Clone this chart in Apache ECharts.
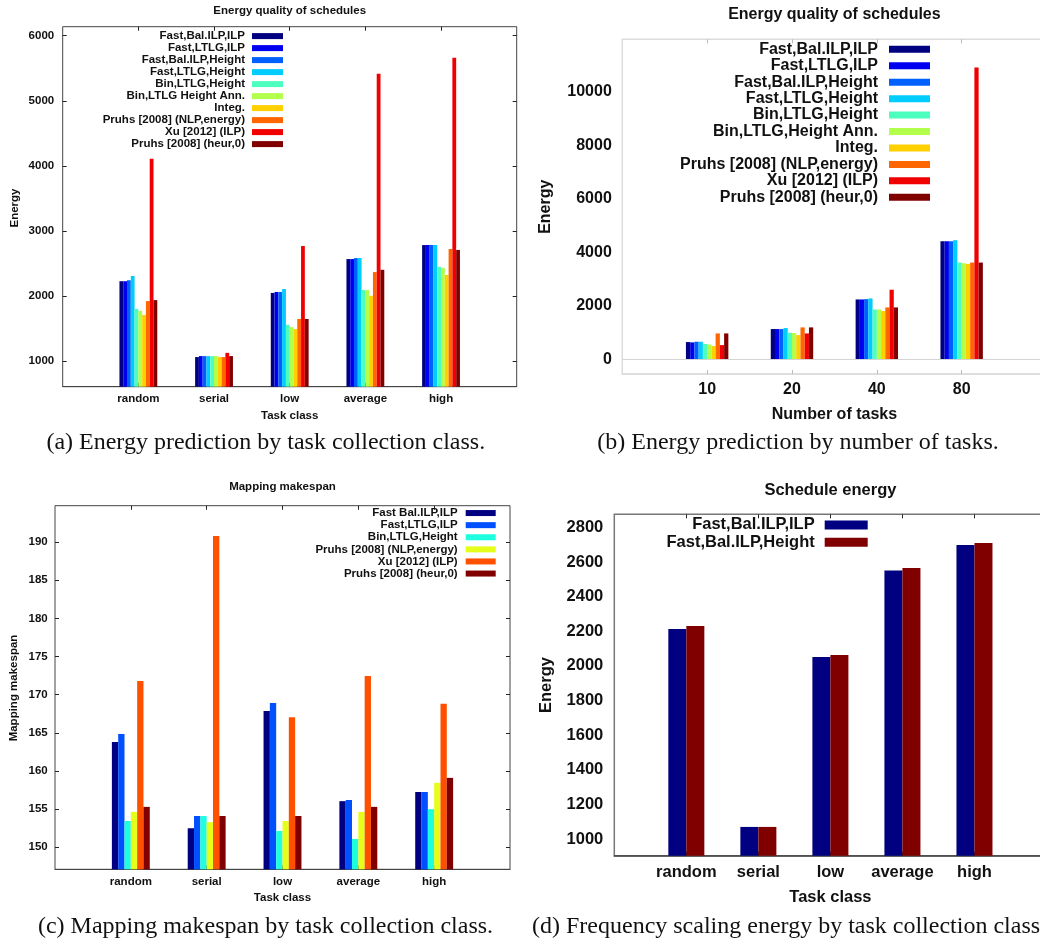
<!DOCTYPE html>
<html><head><meta charset="utf-8">
<script src="https://cdn.jsdelivr.net/npm/echarts@6/dist/echarts.min.js"></script>
<style>html,body{margin:0;padding:0;background:#fff;overflow:hidden}#c{width:1040px;height:940px}</style>
</head><body><div id="c"></div>
<script>
// ---------------- DATA ----------------
const taskClasses = ['random', 'serial', 'low', 'average', 'high'];
const taskCounts = ['10', '20', '40', '80'];

// (a) Energy prediction by task collection class
const namesA = ['Fast,Bal.ILP,ILP', 'Fast,LTLG,ILP', 'Fast,Bal.ILP,Height', 'Fast,LTLG,Height', 'Bin,LTLG,Height',
  'Bin,LTLG Height Ann.', 'Integ.', 'Pruhs [2008] (NLP,energy)', 'Xu [2012] (ILP)', 'Pruhs [2008] (heur,0)'];
const aFastBalIlpIlp = [2230, 1065, 2050, 2570, 2785];
const aFastLtlgIlp = [2230, 1080, 2065, 2570, 2785];
const aFastBalIlpHeight = [2245, 1080, 2065, 2585, 2785];
const aFastLtlgHeight = [2310, 1080, 2110, 2585, 2785];
const aBinLtlgHeight = [1805, 1080, 1560, 2095, 2450];
const aBinLtlgHeightAnn = [1775, 1080, 1525, 2095, 2435];
const aInteg = [1710, 1065, 1495, 2005, 2325];
const aPruhsNlp = [1925, 1065, 1650, 2370, 2725];
const aXuIlp = [4110, 1130, 2770, 5415, 5660];
const aPruhsHeur = [1940, 1080, 1650, 2405, 2710];
const yTicksA = [1000, 2000, 3000, 4000, 5000, 6000];

// (b) Energy prediction by number of tasks
const namesB = ['Fast,Bal.ILP,ILP', 'Fast,LTLG,ILP', 'Fast,Bal.ILP,Height', 'Fast,LTLG,Height', 'Bin,LTLG,Height',
  'Bin,LTLG,Height Ann.', 'Integ.', 'Pruhs [2008] (NLP,energy)', 'Xu [2012] (ILP)', 'Pruhs [2008] (heur,0)'];
const bFastBalIlpIlp = [658, 1143, 2248, 4420];
const bFastLtlgIlp = [646, 1143, 2248, 4420];
const bFastBalIlpHeight = [670, 1143, 2260, 4420];
const bFastLtlgHeight = [670, 1180, 2285, 4460];
const bBinLtlgHeight = [585, 1005, 1875, 3625];
const bBinLtlgHeightAnn = [570, 995, 1875, 3600];
const bInteg = [510, 920, 1815, 3575];
const bPruhsNlp = [980, 1205, 1950, 3625];
const bXuIlp = [545, 980, 2610, 10900];
const bPruhsHeur = [980, 1205, 1950, 3625];
const yTicksB = [0, 2000, 4000, 6000, 8000, 10000];

// (c) Mapping makespan by task collection class
const namesC = ['Fast Bal.ILP,ILP', 'Fast,LTLG,ILP', 'Bin,LTLG,Height', 'Pruhs [2008] (NLP,energy)', 'Xu [2012] (ILP)', 'Pruhs [2008] (heur,0)'];
const cFastBalIlpIlp = [163.8, 152.5, 167.85, 156.05, 157.25];
const cFastLtlgIlp = [164.85, 154.1, 168.9, 156.2, 157.25];
const cBinLtlgHeight = [153.45, 154.1, 152.15, 151.1, 155.0];
const cPruhsNlp = [154.65, 153.3, 153.45, 154.65, 158.45];
const cXuIlp = [171.8, 190.8, 167.05, 172.45, 168.8];
const cPruhsHeur = [155.3, 154.1, 154.1, 155.3, 159.1];
const yTicksC = [150, 155, 160, 165, 170, 175, 180, 185, 190];

// (d) Frequency scaling energy by task collection class
const namesD = ['Fast,Bal.ILP,ILP', 'Fast,Bal.ILP,Height'];
const dFastBalIlpIlp = [2213, 1071, 2052, 2550, 2698];
const dFastBalIlpHeight = [2231, 1071, 2063, 2565, 2710];
const yTicksD = [1000, 1200, 1400, 1600, 1800, 2000, 2200, 2400, 2600, 2800];

// ---------------- STYLE ----------------
const colors10 = ['#000080', '#0000f0', '#0060ff', '#00ccff', '#4dffbf', '#b2ff4c', '#ffd000', '#ff6600', '#f00000', '#800000'];
const colors6 = ['#000080', '#0050ff', '#1effe0', '#e6ff1a', '#ff5000', '#800000'];
const colors2 = ['#000080', '#800000'];
const SANS = '"Liberation Sans", Arial, sans-serif';
const SERIF = '"Liberation Serif", "Times New Roman", serif';

const valuesA = [aFastBalIlpIlp, aFastLtlgIlp, aFastBalIlpHeight, aFastLtlgHeight, aBinLtlgHeight, aBinLtlgHeightAnn, aInteg, aPruhsNlp, aXuIlp, aPruhsHeur];
const valuesB = [bFastBalIlpIlp, bFastLtlgIlp, bFastBalIlpHeight, bFastLtlgHeight, bBinLtlgHeight, bBinLtlgHeightAnn, bInteg, bPruhsNlp, bXuIlp, bPruhsHeur];
const valuesC = [cFastBalIlpIlp, cFastLtlgIlp, cBinLtlgHeight, cPruhsNlp, cXuIlp, cPruhsHeur];
const valuesD = [dFastBalIlpIlp, dFastBalIlpHeight];

const pad = v => [null, ...v, null];
const padCats = c => ['', ...c, ''];

function xPair(gridIndex, cats, fs, margin, lineColor, lineW, tickColor, tickLen) {
  const n = cats.length + 2;
  const tickInt = (i) => i > 0 && i < n - 1;
  return [{
    type: 'category', gridIndex, data: padCats(cats), boundaryGap: false, position: 'bottom',
    axisLine: { show: true, onZero: false, lineStyle: { color: lineColor, width: lineW } },
    axisTick: { show: true, inside: true, length: tickLen, interval: tickInt, lineStyle: { color: tickColor } },
    axisLabel: { margin, color: '#111', fontFamily: SANS, fontWeight: 'bold', fontSize: fs, interval: 0 },
    splitLine: { show: false }
  }, {
    type: 'category', gridIndex, data: padCats(cats), boundaryGap: false, position: 'top',
    axisLine: { show: false, onZero: false },
    axisTick: { show: true, inside: true, length: tickLen, interval: tickInt, lineStyle: { color: tickColor } },
    axisLabel: { show: false }, splitLine: { show: false }
  }];
}
function yAxis(gridIndex, min, max, ticks, fs, margin, showTick, position) {
  return {
    type: 'value', gridIndex, min, max, position: position || 'left',
    axisLine: { show: false },
    axisTick: { show: showTick, inside: true, length: 4, customValues: ticks, lineStyle: { color: '#222' } },
    axisLabel: position === 'right' ? { show: false } : {
      customValues: ticks, margin, color: '#111', fontFamily: SANS, fontWeight: 'bold', fontSize: fs,
      formatter: v => String(v)
    },
    splitLine: { show: false }
  };
}
function bars(names, values, colors, xi, yi) {
  return names.map((n, i) => ({
    type: 'bar', name: n, xAxisIndex: xi, yAxisIndex: yi, data: pad(values[i]),
    barGap: '0%', barCategoryGap: '50%', itemStyle: { color: colors[i] }, silent: true
  }));
}
function legend(names, colors, right, top, iw, ih, fs, lh, padR) {
  return {
    orient: 'vertical', align: 'right', right, top, padding: 0, itemGap: 0,
    itemWidth: iw, itemHeight: ih, icon: 'rect', selectedMode: false,
    textStyle: { fontFamily: SANS, fontWeight: 'bold', fontSize: fs, color: '#111', lineHeight: lh, padding: [0, padR, 0, 0] },
    data: names.map((n, i) => ({ name: n, itemStyle: { color: colors[i] } }))
  };
}
function txt(x, y, text, fs, opt) {
  opt = opt || {};
  return {
    type: 'text', x, y, rotation: opt.rot || 0, silent: true,
    style: { text, fill: '#111', font: (opt.serif ? '' : 'bold ') + fs + 'px ' + (opt.serif ? SERIF : SANS),
      align: opt.align || 'center', verticalAlign: 'middle' }
  };
}

const gridA = { left: 62.7, top: 26.7, width: 454, height: 360 };
const gridB = { left: 622.3, top: 39.3, width: 424.2, height: 334.7 };
const gridC = { left: 55, top: 505.7, width: 455, height: 363.6 };
const gridD = { left: 614.3, top: 514.3, width: 432.2, height: 341.4 };

const xA = xPair(0, taskClasses, 11.5, 6, '#444', 1, '#222', 4);
const xB = xPair(1, taskCounts, 16, 8, '#dcdcdc', 1.5, '#bbb', 4);
const xC = xPair(2, taskClasses, 11.5, 6.5, '#444', 1, '#222', 4);
const xD = xPair(3, taskClasses, 16.5, 8.5, '#444', 1.5, '#222', 4);

const seriesB = bars(namesB, valuesB, colors10, 2, 2);
seriesB[0].markLine = { silent: true, symbol: 'none', label: { show: false }, lineStyle: { color: '#d4d4d4', width: 1.2, type: 'solid' }, data: [{ yAxis: 0 }] };

const gridBase = { show: true, outerBoundsMode: 'none', containLabel: false };
const option = {
  animation: false,
  backgroundColor: '#fff',
  grid: [
    Object.assign({}, gridBase, { borderColor: '#444', borderWidth: 1 }, gridA),
    Object.assign({}, gridBase, { borderColor: '#dcdcdc', borderWidth: 1.5 }, gridB),
    Object.assign({}, gridBase, { borderColor: '#444', borderWidth: 1 }, gridC),
    Object.assign({}, gridBase, { borderColor: '#777', borderWidth: 1.5 }, gridD)
  ],
  xAxis: [...xA, ...xB, ...xC, ...xD],
  yAxis: [
    yAxis(0, 610, 6138, yTicksA, 11.5, 8.5, true),
    yAxis(0, 610, 6138, yTicksA, 11.5, 8.5, true, 'right'),
    yAxis(1, -534, 11955, yTicksB, 16, 10.5, false),
    yAxis(2, 147.12, 194.76, yTicksC, 11.5, 7.3, true),
    yAxis(2, 147.12, 194.76, yTicksC, 11.5, 7.3, true, 'right'),
    yAxis(3, 905, 2875, yTicksD, 16.5, 11, false)
  ],
  legend: [
    legend(namesA, colors10, 757, 30.1, 31, 6, 11.5, 11.78, 2),
    legend(namesB, colors10, 110, 41.1, 41, 7, 16, 16.44, 6),
    legend(namesC, colors6, 544.3, 507, 30, 6, 11.5, 12.1, 3),
    legend(namesD, colors2, 172.3, 516.3, 43, 9, 16.5, 17.3, 5)
  ],
  series: [
    ...bars(namesA, valuesA, colors10, 0, 0),
    ...seriesB,
    ...bars(namesC, valuesC, colors6, 4, 3),
    ...bars(namesD, valuesD, colors2, 6, 5)
  ],
  graphic: [
    txt(289.7, 10.7, 'Energy quality of schedules', 11.5),
    txt(289.7, 416, 'Task class', 11.5),
    txt(15, 208, 'Energy', 11.5, { rot: Math.PI / 2 }),
    txt(265.8, 442.5, '(a) Energy prediction by task collection class.', 24, { serif: true }),

    txt(834.4, 14.7, 'Energy quality of schedules', 16),
    txt(834.4, 415, 'Number of tasks', 16),
    txt(546, 206.7, 'Energy', 16, { rot: Math.PI / 2 }),
    txt(798, 442.5, '(b) Energy prediction by number of tasks.', 24, { serif: true }),

    txt(282.5, 487.3, 'Mapping makespan', 11.5),
    txt(282.5, 898, 'Task class', 11.5),
    txt(14, 688, 'Mapping makespan', 11.5, { rot: Math.PI / 2 }),
    txt(265.5, 926.5, '(c) Mapping makespan by task collection class.', 24, { serif: true }),

    txt(830.4, 490, 'Schedule energy', 16.5),
    txt(830.4, 897.7, 'Task class', 16.5),
    txt(546, 685, 'Energy', 16.5, { rot: Math.PI / 2 }),
    txt(532, 926.5, '(d) Frequency scaling energy by task collection class', 24, { serif: true, align: 'left' })
  ]
};

const chart = echarts.init(document.getElementById('c'), null, { renderer: 'canvas', width: 1040, height: 940 });
chart.setOption(option);
</script>
</body></html>
